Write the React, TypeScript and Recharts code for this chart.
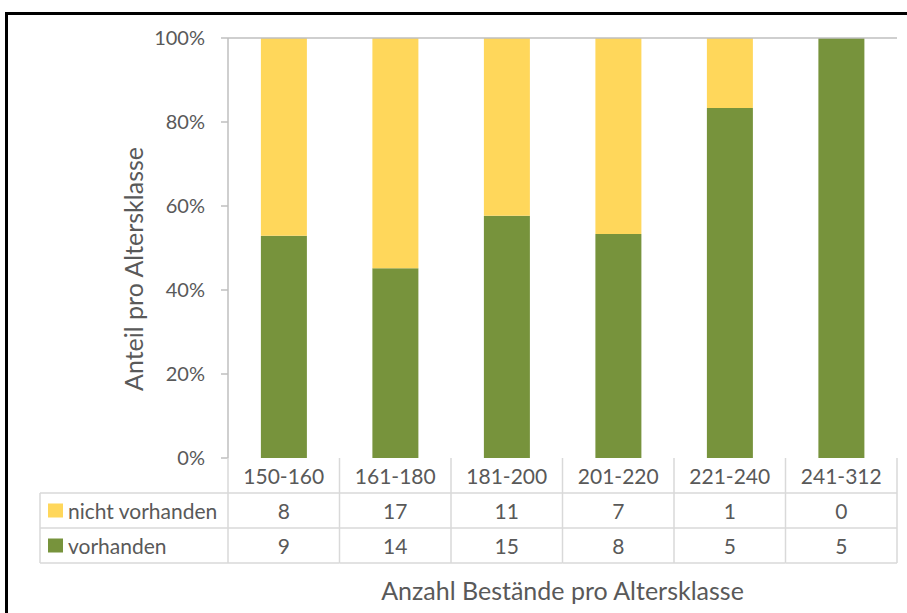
import React from 'react';
import { BarChart, Bar, XAxis, YAxis, ReferenceLine, Label } from 'recharts';

// Altersklassen und Anzahl Bestände
const classes = ['150-160', '161-180', '181-200', '201-220', '221-240', '241-312'];
const nichtVorhanden = [8, 17, 11, 7, 1, 0];
const vorhanden = [9, 14, 15, 8, 5, 5];
const yTicks = [0, 0.2, 0.4, 0.6, 0.8, 1];

const data = classes.map((c, i) => ({
  klasse: c,
  vorhanden: vorhanden[i],
  nicht: nichtVorhanden[i],
}));

const FONT = 'Lato, "Open Sans", sans-serif';
const TEXT = '#595959';
const GRID = '#D9D9D9';
const AXIS = '#BFBFBF';
const YELLOW = '#FFD75B';
const GREEN = '#77933C';

const CELL_W = 669 / 6;
const ROW_H = 35;
const LEGEND_LEFT = 40;

// Tick = eine Tabellenspalte (Kopf + zwei Werte)
const TableTick = (props: any) => {
  const { x, y, payload, index } = props;
  const i = index as number;
  const left = x - CELL_W / 2;
  const right = x + CELL_W / 2;
  const textProps = {
    fontFamily: FONT,
    fontSize: 21,
    fill: TEXT,
    textAnchor: 'middle' as const,
    dominantBaseline: 'central' as const,
  };
  return (
    <g>
      <line x1={right} y1={y} x2={right} y2={y + ROW_H * 3} stroke={GRID} strokeWidth={1.5} />
      {i === 0 && <line x1={left} y1={y} x2={left} y2={y + ROW_H * 3} stroke={GRID} strokeWidth={1.5} />}
      <line x1={i === 0 ? LEGEND_LEFT : left} y1={y + ROW_H} x2={right} y2={y + ROW_H} stroke={GRID} strokeWidth={1.5} />
      <line x1={i === 0 ? LEGEND_LEFT : left} y1={y + ROW_H * 2} x2={right} y2={y + ROW_H * 2} stroke={GRID} strokeWidth={1.5} />
      <line x1={i === 0 ? LEGEND_LEFT : left} y1={y + ROW_H * 3} x2={right} y2={y + ROW_H * 3} stroke={GRID} strokeWidth={1.5} />
      <text x={x} y={y + ROW_H / 2} {...textProps}>{payload.value}</text>
      <text x={x} y={y + ROW_H * 1.5} {...textProps}>{nichtVorhanden[i]}</text>
      <text x={x} y={y + ROW_H * 2.5} {...textProps}>{vorhanden[i]}</text>
      {i === 0 && (
        <g>
          <line x1={LEGEND_LEFT} y1={y + ROW_H} x2={LEGEND_LEFT} y2={y + ROW_H * 3} stroke={GRID} strokeWidth={1.5} />
          <rect x={LEGEND_LEFT + 8} y={y + ROW_H * 1.5 - 7} width={15} height={14} fill={YELLOW} />
          <rect x={LEGEND_LEFT + 8} y={y + ROW_H * 2.5 - 7} width={15} height={14} fill={GREEN} />
          <text x={LEGEND_LEFT + 28} y={y + ROW_H * 1.5} {...textProps} textAnchor="start">nicht vorhanden</text>
          <text x={LEGEND_LEFT + 28} y={y + ROW_H * 2.5} {...textProps} textAnchor="start">vorhanden</text>
        </g>
      )}
    </g>
  );
};

// Achsentitel links, etwas unterhalb der Plotmitte (wie im Original)
const YTitle = () => (
  <text
    x={133}
    y={269}
    transform="rotate(-90 133 269)"
    textAnchor="middle"
    dominantBaseline="central"
    fontFamily={FONT}
    fontSize={25}
    fill={TEXT}
  >
    Anteil pro Altersklasse
  </text>
);

export default function App() {
  return (
    <div style={{ position: 'fixed', left: 0, top: 0, width: 907, height: 613, background: '#fff' }}>
      <div
        style={{
          position: 'absolute',
          left: 5,
          top: 12,
          width: 920,
          height: 620,
          borderLeft: '3px solid #000',
          borderTop: '3px solid #000',
          boxSizing: 'border-box',
        }}
      />
      <div style={{ position: 'absolute', left: 0, top: 0 }}>
        <BarChart
          width={907}
          height={613}
          data={data}
          stackOffset="expand"
          barCategoryGap="29.5%"
          margin={{ top: 38, right: 10, bottom: 0, left: 0 }}
        >
          <XAxis
            dataKey="klasse"
            height={155}
            interval={0}
            axisLine={false}
            tickLine={false}
            tickSize={0}
            tickMargin={0}
            tick={<TableTick />}
          >
            <Label
              value="Anzahl Bestände pro Altersklasse"
              position="insideBottom"
              offset={13}
              style={{ fontFamily: FONT, fontSize: 25, fill: TEXT }}
            />
          </XAxis>
          <YAxis
            width={228}
            ticks={yTicks}
            domain={[0, 1]}
            tickFormatter={(v: number) => `${Math.round(v * 100)}%`}
            tick={{ fontFamily: FONT, fontSize: 20, fill: TEXT }}
            axisLine={{ stroke: AXIS, strokeWidth: 1.5 }}
            tickLine={{ stroke: AXIS, strokeWidth: 1.5 }}
            tickSize={7}
            tickMargin={16}
          >
            <Label content={<YTitle />} />
          </YAxis>
          <YAxis
            yAxisId="right"
            orientation="right"
            width={0}
            tick={false}
            tickLine={false}
            axisLine={{ stroke: AXIS, strokeWidth: 1.5 }}
          />
          <ReferenceLine y={1} stroke={AXIS} strokeWidth={1.5} />
          <Bar dataKey="vorhanden" stackId="a" fill={GREEN} isAnimationActive={false} />
          <Bar dataKey="nicht" stackId="a" fill={YELLOW} isAnimationActive={false} />
        </BarChart>
      </div>
    </div>
  );
}
